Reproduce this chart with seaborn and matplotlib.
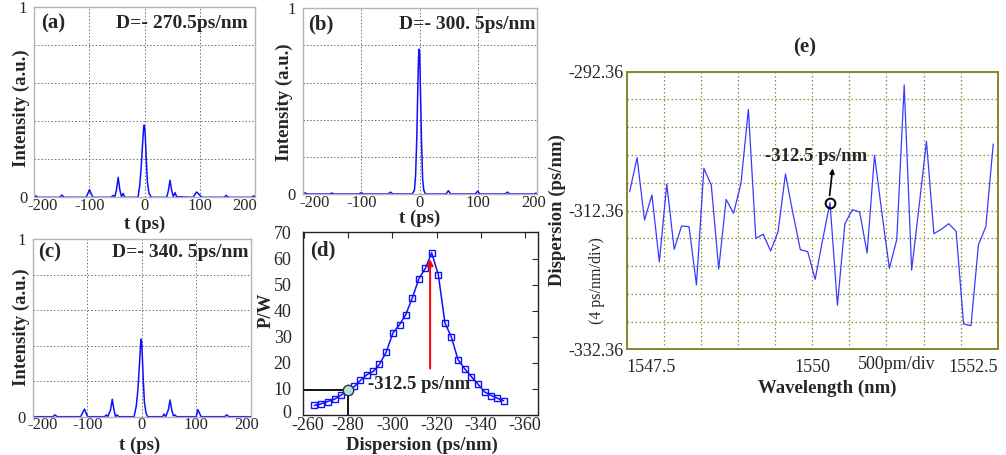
import matplotlib
matplotlib.use('Agg')
import matplotlib.pyplot as plt
import matplotlib.transforms as mtransforms
import seaborn as sns

# ---------------- data ----------------
# (a) D = -270.5 ps/nm
t_a = [-200, -197, -194, -154, -150, -146, -106, -103, -100, -97, -94, -61, -57, -54, -51, -48, -45, -42, -39, -36,
       -12, -9, -6, -4, -2, -1, 0, 1, 3, 5, 8, 12, 40, 43, 46, 49, 52, 55, 58, 88, 91, 94, 97, 101, 104,
       144, 148, 152, 194, 198, 200]
I_a = [0.0, 0.008, 0.0, 0.0, 0.012, 0.0, 0.0, 0.02, 0.04, 0.02, 0.0, 0.0, 0.01, 0.003, 0.04, 0.105, 0.04, 0.003, 0.02, 0.0,
       0.0, 0.06, 0.17, 0.27, 0.36, 0.38, 0.37, 0.33, 0.2, 0.08, 0.02, 0.0, 0.0, 0.035, 0.09, 0.035, 0.003, 0.025, 0.003,
       0.0, 0.015, 0.028, 0.02, 0.008, 0.0, 0.0, 0.01, 0.0, 0.0, 0.008, 0.0]
# (b) D = -300.5 ps/nm
t_b = [-200, -196, -192, -154, -150, -146, -104, -100, -96, -54, -50, -46, -13, -9, -7, -5, -3, -2, -1, 0, 1, 3, 5, 7, 10,
       45, 49, 53, 95, 99, 103, 146, 150, 154, 196, 199, 200]
I_b = [0.0, 0.006, 0.0, 0.0, 0.005, 0.0, 0.0, 0.007, 0.0, 0.0, 0.01, 0.0, 0.0, 0.02, 0.1, 0.3, 0.6, 0.74, 0.78, 0.75, 0.6,
       0.3, 0.08, 0.02, 0.0, 0.0, 0.018, 0.0, 0.0, 0.015, 0.0, 0.0, 0.01, 0.0, 0.0, 0.005, 0.0]
# (c) D = -340.5 ps/nm
t_c = [-200, -163, -159, -155, -112, -108, -105, -102, -99, -68, -65, -62, -57, -54, -51, -48, -45, -42,
       -14, -10, -7, -4, -2, -1, 0, 1, 3, 5, 8, 11, 38, 41, 44, 49, 52, 55, 58, 61, 64, 100, 103, 106, 109,
       152, 156, 160, 200]
I_c = [0.0, 0.0, 0.01, 0.0, 0.0, 0.025, 0.043, 0.02, 0.0, 0.0, 0.01, 0.0, 0.04, 0.098, 0.04, 0.0, 0.01, 0.0,
       0.0, 0.06, 0.15, 0.3, 0.41, 0.436, 0.42, 0.35, 0.2, 0.08, 0.02, 0.0, 0.0, 0.015, 0.0, 0.04, 0.094, 0.04,
       0.005, 0.01, 0.0, 0.0, 0.04, 0.02, 0.0, 0.0, 0.01, 0.0, 0.0]
pulse_xticks = [-200, -100, 0, 100, 200]
pulse_xlabels = ['-200', '-100', '0', '100', '200']

# (d) peak power vs dispersion
disp_d = [-264.8, -267.8, -270.8, -273.9, -276.9, -280.2, -282.9, -285.6, -288.5, -291.5, -294.2, -297.2, -300.3,
          -303.3, -306.0, -309.0, -312.0, -315.0, -317.8, -320.8, -323.8, -326.7, -329.7, -332.7, -335.7, -338.7,
          -341.7, -344.8, -347.3, -350.3]
power_d = [3.5, 4.1, 5.0, 5.9, 7.5, 9.3, 10.8, 13.1, 15.3, 16.6, 19.3, 23.9, 31.4, 34.6, 38.3, 44.7, 52.2, 56.3,
           62.2, 53.8, 35.2, 29.8, 21.1, 17.6, 14.6, 11.7, 8.7, 7.3, 6.3, 5.3]
d_xticks = [-260, -280, -300, -320, -340, -360]
d_yticks = [0, 10, 20, 30, 40, 50, 60, 70]
mark_d = (-280.0, 9.6)

# (e) dispersion vs wavelength
wl_e = [1547.54, 1547.64, 1547.74, 1547.84, 1547.94, 1548.04, 1548.14, 1548.24, 1548.34, 1548.44,
        1548.54, 1548.64, 1548.74, 1548.84, 1548.94, 1549.04, 1549.14, 1549.24, 1549.34, 1549.44,
        1549.54, 1549.64, 1549.74, 1549.84, 1549.94, 1550.04, 1550.14, 1550.24, 1550.34, 1550.44,
        1550.54, 1550.64, 1550.74, 1550.84, 1550.94, 1551.04, 1551.14, 1551.24, 1551.34, 1551.44,
        1551.54, 1551.64, 1551.74, 1551.84, 1551.94, 1552.04, 1552.14, 1552.24, 1552.34, 1552.44]
disp_e = [-309.65, -304.75, -313.73, -310.13, -319.78, -308.54, -317.95, -314.59, -314.69, -323.09,
          -306.29, -308.69, -320.79, -310.75, -312.77, -308.45, -297.79, -316.37, -315.79, -318.19,
          -315.41, -307.10, -312.77, -318.00, -318.29, -322.28, -316.61, -311.23, -326.02, -314.30,
          -312.24, -312.58, -318.48, -304.41, -312.77, -320.69, -316.51, -294.28, -320.93, -311.81,
          -302.40, -315.70, -315.07, -314.26, -315.36, -328.71, -328.95, -317.33, -314.69, -302.78]
e_xgrid = [1547.5, 1548.0, 1548.5, 1549.0, 1549.5, 1550.0, 1550.5, 1551.0, 1551.5, 1552.0, 1552.5]
e_xlabels = ['1547.5', '', '', '', '', '1550', '', '', '', '', '1552.5']
e_ygrid = [-332.36, -328.36, -324.36, -320.36, -316.36, -312.36, -308.36, -304.36, -300.36, -296.36, -292.36]
e_ylabels = ['-332.36', '', '', '', '', '-312.36', '', '', '', '', '-292.36']

# ---------------- style ----------------
sns.set_style('white')
plt.rcParams['font.family'] = ['Liberation Serif', 'DejaVu Serif']
plt.rcParams['axes.unicode_minus'] = False

W, H = 1006, 455
fig = plt.figure(figsize=(W / 100, H / 100), dpi=100)


def rect(l, r, t, b):
    return [l / W, 1 - b / H, (r - l) / W, (b - t) / H]


def shift_label(lab, dx_px, dy_px=0):
    lab.set_transform(lab.get_transform() +
                      mtransforms.ScaledTranslation(dx_px / 100, dy_px / 100, fig.dpi_scale_trans))


BLUE = '#1010ff'


def pulse_panel(rc, t, I, tag, tag_pos, dtext, dx, xl, yl, edge_shift):
    ax = fig.add_axes(rc)
    sns.lineplot(x=t, y=I, ax=ax, color=BLUE, lw=1.1, sort=False, estimator=None)
    ax.set_xlim(-200, 200)
    ax.set_ylim(0, 1)
    ax.set_xticks(pulse_xticks)
    ax.set_xticklabels(pulse_xlabels)
    ax.set_yticks([0, 0.2, 0.4, 0.6, 0.8, 1.0])
    ax.set_yticklabels(['0', '', '', '', '', '1'])
    ax.grid(True, ls=(0, (1.5, 2)), color='#707070', lw=0.7)
    ax.tick_params(length=0, labelsize=12, pad=0.5)
    ax.tick_params(axis='y', pad=5)
    labs = ax.get_xticklabels()
    shift_label(labs[0], edge_shift[0])
    shift_label(labs[-1], edge_shift[1])
    for s in ax.spines.values():
        s.set_color('#b4b4b4')
        s.set_linewidth(1.0)
    ax.set_xlabel('t (ps)', fontsize=13.5, fontweight='bold')
    ax.set_ylabel('Intensity (a.u.)', fontsize=13.5, fontweight='bold')
    ax.xaxis.label.set_va('center')
    ax.yaxis.label.set_va('center')
    ax.xaxis.set_label_coords(*xl)
    ax.yaxis.set_label_coords(*yl)
    ax.text(tag_pos[0], tag_pos[1], tag, transform=ax.transAxes, fontsize=15, fontweight='bold',
            ha='center', va='center')
    ax.text(dx, tag_pos[1], dtext, transform=ax.transAxes, fontsize=14, fontweight='bold',
            ha='right', va='center')
    return ax


pulse_panel(rect(34.3, 255, 7.3, 197.3), t_a, I_a, '(a)', (0.085, 0.917), 'D=- 270.5ps/nm', 0.968,
            (0.5, -0.14), (-0.060, 0.47), (8, -10))
pulse_panel(rect(302.7, 536.7, 8.3, 194), t_b, I_b, '(b)', (0.078, 0.915), 'D=- 300. 5ps/nm', 0.997,
            (0.5, -0.13), (-0.078, 0.497), (12, -3))
pulse_panel(rect(32.7, 250.7, 239, 416.7), t_c, I_c, '(c)', (0.076, 0.925), 'D=- 340. 5ps/nm', 0.989,
            (0.492, -0.16), (-0.054, 0.505), (10, -4))

# ---------------- (d) ----------------
axd = fig.add_axes(rect(302.7, 538.3, 232.5, 414.5))
sns.lineplot(x=disp_d, y=power_d, ax=axd, color=BLUE, lw=1.1, sort=False, estimator=None,
             marker='s', markersize=4.5, markerfacecolor='none', markeredgecolor=BLUE, markeredgewidth=1.0)
axd.set_xlim(-259.5, -366)
axd.set_ylim(0, 70)
axd.set_xticks(d_xticks)
axd.set_xticklabels([str(v) for v in d_xticks])
axd.set_yticks(d_yticks)
axd.set_yticklabels([str(v) for v in d_yticks])
axd.tick_params(direction='in', length=4, width=0.8, labelsize=13, top=True, right=True, pad=2)
axd.tick_params(axis='y', pad=8)
shift_label(axd.get_xticklabels()[0], 4)
shift_label(axd.get_yticklabels()[0], 0, 3)
for s in axd.spines.values():
    s.set_color('#222222')
    s.set_linewidth(1.0)
axd.plot([-259.5, mark_d[0]], [mark_d[1], mark_d[1]], color='black', lw=1.3)
axd.plot([mark_d[0], mark_d[0]], [0, mark_d[1]], color='black', lw=1.3)
axd.plot([mark_d[0]], [mark_d[1]], marker='o', ms=7.5, mfc='#b4dede', mec='#333333', mew=1.0)
axd.annotate('', xy=(-317.1, 60.8), xytext=(-317.1, 16.6),
             arrowprops=dict(arrowstyle='-|>', color='red', lw=1.4, mutation_scale=9))
axd.text(-312.3, 11.7, '-312.5 ps/nm', fontsize=13.5, fontweight='bold', ha='center', va='center')
axd.text(0.086, 0.903, '(d)', transform=axd.transAxes, fontsize=15, fontweight='bold', ha='center', va='center')
axd.set_xlabel('Dispersion (ps/nm)', fontsize=13.5, fontweight='bold')
axd.set_ylabel('P/W', fontsize=13.5, fontweight='bold')
axd.xaxis.label.set_va('center')
axd.yaxis.label.set_va('center')
axd.xaxis.set_label_coords(0.506, -0.167)
axd.yaxis.set_label_coords(-0.155, 0.574)

# ---------------- (e) ----------------
OLIVE = '#86862a'
axe = fig.add_axes(rect(626.7, 997.7, 71.7, 349.3))
sns.lineplot(x=wl_e, y=disp_e, ax=axe, color='#3a3aff', lw=0.9, sort=False, estimator=None)
axe.set_xlim(1547.5, 1552.5)
axe.set_ylim(-332.36, -292.36)
axe.set_xticks(e_xgrid)
axe.set_xticklabels(e_xlabels)
axe.set_yticks(e_ygrid)
axe.set_yticklabels(e_ylabels)
axe.grid(True, ls=(0, (1.2, 2)), color='#8e8e3c', lw=0.9)
axe.tick_params(length=0, labelsize=13)
axe.tick_params(axis='x', pad=7)
axe.tick_params(axis='y', pad=2)
for lab, ha in zip(axe.get_xticklabels(), ['left'] + [''] * 4 + ['center'] + [''] * 4 + ['right']):
    if ha:
        lab.set_ha(ha)
for s in axe.spines.values():
    s.set_color(OLIVE)
    s.set_linewidth(1.4)
axe.text(1551.14, -333.3, '500pm/div', fontsize=13, ha='center', va='top')
axe.plot([wl_e[27]], [disp_e[27]], marker='o', ms=7, mfc='none', mec='black', mew=1.4)
axe.annotate('', xy=(1550.28, -305.9), xytext=(1550.23, -310.6),
             arrowprops=dict(arrowstyle='-|>', color='black', lw=1.2, mutation_scale=7))
axe.text(1550.05, -304.6, '-312.5 ps/nm', fontsize=13.5, fontweight='bold', ha='center', va='center')
axe.set_xlabel('Wavelength (nm)', fontsize=13.5, fontweight='bold')
axe.set_ylabel('Dispersion (ps/nm)', fontsize=13.5, fontweight='bold')
axe.xaxis.label.set_va('center')
axe.yaxis.label.set_va('center')
axe.xaxis.set_label_coords(0.540, -0.139)
axe.yaxis.set_label_coords(-0.188, 0.502)
axe.text(-0.080, 0.246, '(4 ps/nm/div)', transform=axe.transAxes, fontsize=11.5, rotation=90,
         ha='center', va='center')
fig.text(805 / W, 1 - 47 / H, '(e)', fontsize=15, fontweight='bold', ha='center', va='center')

fig.savefig('out.png', dpi=100)
